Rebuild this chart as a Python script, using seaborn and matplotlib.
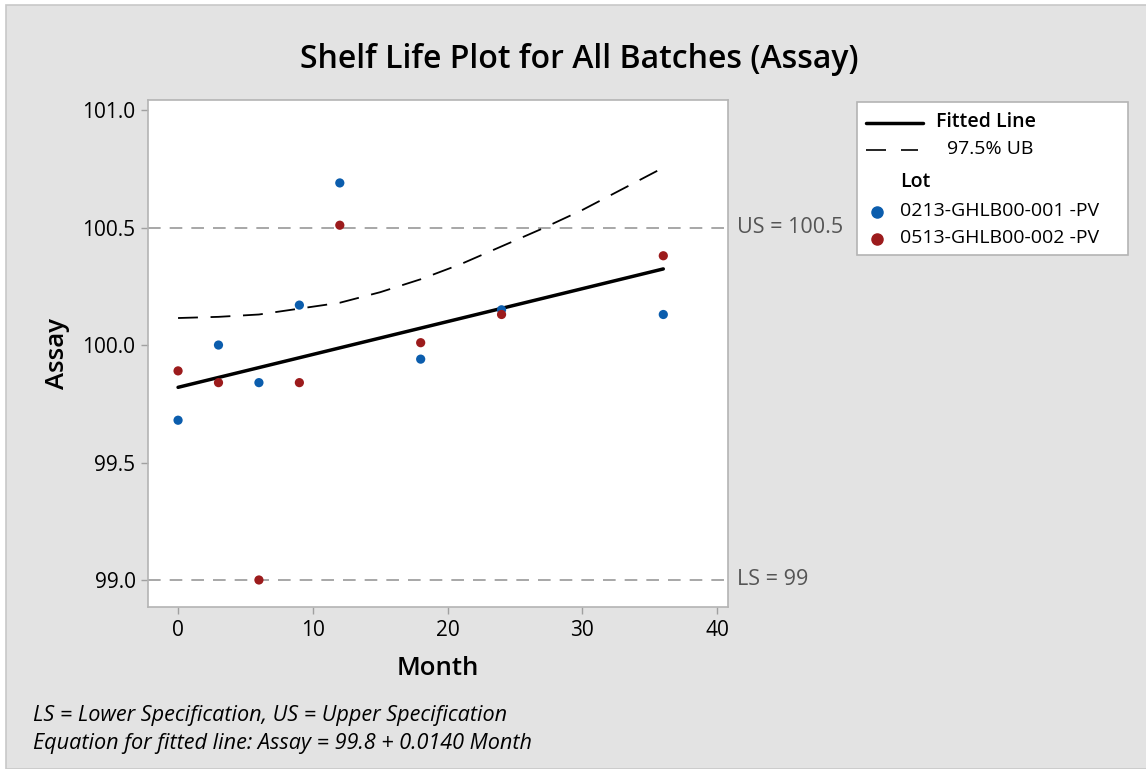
import matplotlib
matplotlib.use("Agg")
import matplotlib.pyplot as plt
import numpy as np
import pandas as pd
import seaborn as sns
from matplotlib.lines import Line2D
from matplotlib.patches import Rectangle

# data
MONTHS = [0, 3, 6, 9, 12, 18, 24, 36]
ASSAY_LOT1 = [99.68, 100.00, 99.84, 100.17, 100.69, 99.94, 100.15, 100.13]
ASSAY_LOT2 = [99.89, 99.84, 99.00, 99.84, 100.51, 100.01, 100.13, 100.38]
LOTS = ["0213-GHLB00-001 -PV", "0513-GHLB00-002 -PV"]

FIT_MONTHS = [0, 36]
FIT_ASSAY = [99.82, 100.324]

UB_MONTHS = [0, 3, 6, 9, 12, 15, 18, 21, 24, 27, 30, 33, 36]
UB_ASSAY = [100.115, 100.12, 100.13, 100.155, 100.18, 100.225, 100.28,
            100.345, 100.42, 100.495, 100.575, 100.665, 100.755]

LS_VALUE = 99.0
US_VALUE = 100.5

BLUE = "#0B5DAD"
RED = "#9C1B1C"
BG = "#E3E3E3"
FONT = "Open Sans"
W, H = 1146, 769


def px(x, y):
    """ pixel position (from top left) to figure fraction """
    return x / W, 1 - y / H


sns.set_theme(style="white")
plt.rcParams["font.family"] = [FONT, "DejaVu Sans"]

df = pd.DataFrame({
    "Month": MONTHS * 2,
    "Assay": ASSAY_LOT1 + ASSAY_LOT2,
    "Lot": [LOTS[0]] * len(MONTHS) + [LOTS[1]] * len(MONTHS),
})

fig = plt.figure(figsize=(W / 100, H / 100), dpi=100, facecolor="white")
fig.patches.append(Rectangle(px(6, H), 1, 1 - 5 / H, transform=fig.transFigure,
                             facecolor=BG, edgecolor="#C8C8C8", lw=1.2, zorder=-10))
ax = fig.add_axes([148 / W, 1 - 607 / H, 580 / W, 507 / H])
ax.set_facecolor("white")

# spec limits
for val in (LS_VALUE, US_VALUE):
    ax.axhline(val, color="#A0A0A0", lw=1.3, ls=(0, (7, 5)), zorder=1)

sns.lineplot(x=UB_MONTHS, y=UB_ASSAY, ax=ax, color="black", lw=1.3, zorder=2)
ax.lines[-1].set_linestyle((0, (11, 7)))
sns.lineplot(x=FIT_MONTHS, y=FIT_ASSAY, ax=ax, color="black", lw=2.5, zorder=3)

sns.scatterplot(data=df, x="Month", y="Assay", hue="Lot", palette=[BLUE, RED],
                s=44, edgecolor="none", ax=ax, zorder=4, legend=False)

ax.set_xlim(-2.23, 40.8)
ax.set_ylim(98.885, 101.043)
ax.set_xticks([0, 10, 20, 30, 40])
ax.set_yticks([99.0, 99.5, 100.0, 100.5, 101.0])
ax.set_yticklabels(["99.0", "99.5", "100.0", "100.5", "101.0"])
ax.tick_params(axis="both", direction="out", length=5, width=1, color="#A0A0A0",
               labelsize=15, labelcolor="black", pad=4, bottom=True, left=True)
for sp in ax.spines.values():
    sp.set_color("#B4B4B4")
    sp.set_linewidth(1.2)

ax.set_xlabel("Month", fontsize=18.5, fontweight=600, color="black")
ax.set_ylabel("Assay", fontsize=18.5, fontweight=600, color="black")
ax.xaxis.set_label_coords(0.5, -0.096)
ax.yaxis.set_label_coords(-0.134, 0.5)

# spec labels to the right of the axes
ax.text(1.015, US_VALUE, "US = 100.5", transform=ax.get_yaxis_transform(),
        va="center", ha="left", fontsize=15.5, color="#555555")
ax.text(1.015, LS_VALUE, "LS = 99", transform=ax.get_yaxis_transform(),
        va="center", ha="left", fontsize=15.5, color="#555555")

fig.text(*px(579, 60), "Shelf Life Plot for All Batches (Assay)",
         ha="center", va="center", fontsize=23, fontweight=600, color="black")

fig.text(*px(33, 716), "LS = Lower Specification, US = Upper Specification",
         ha="left", va="center", fontsize=15.6, style="italic", color="black")
fig.text(*px(33, 744), "Equation for fitted line: Assay = 99.8 + 0.0140 Month",
         ha="left", va="center", fontsize=15.6, style="italic", color="black")

# legend box, laid out like the Minitab one
fig.patches.append(Rectangle(px(857, 255), 271 / W, 153 / H, transform=fig.transFigure,
                             facecolor="white", edgecolor="#B4B4B4", lw=1.2, zorder=5))
leg_font = dict(fontsize=14, color="black", va="center", ha="left", zorder=6)
fig.add_artist(Line2D([866 / W, 923 / W], [px(0, 123)[1]] * 2, color="black", lw=2.5,
                      transform=fig.transFigure, zorder=6))
fig.text(*px(936, 122), "Fitted Line", fontweight=600, **leg_font)
fig.add_artist(Line2D([866 / W, 918 / W], [px(0, 150)[1]] * 2, color="black", lw=1.2,
                      ls=(0, (12, 9)), transform=fig.transFigure, zorder=6))
fig.text(*px(947, 149), "97.5% UB", **leg_font)
fig.text(*px(900, 182), "Lot", fontweight=600, **leg_font)
for lot, col, y in zip(LOTS, [BLUE, RED], [211, 238]):
    fig.add_artist(Line2D([877 / W], [px(0, y + 1)[1]], ls="none", marker="o", markersize=8,
                          color=col, transform=fig.transFigure, zorder=6))
    fig.text(*px(900, y), lot, **leg_font)

fig.savefig("out.png", dpi=100, facecolor=fig.get_facecolor())
